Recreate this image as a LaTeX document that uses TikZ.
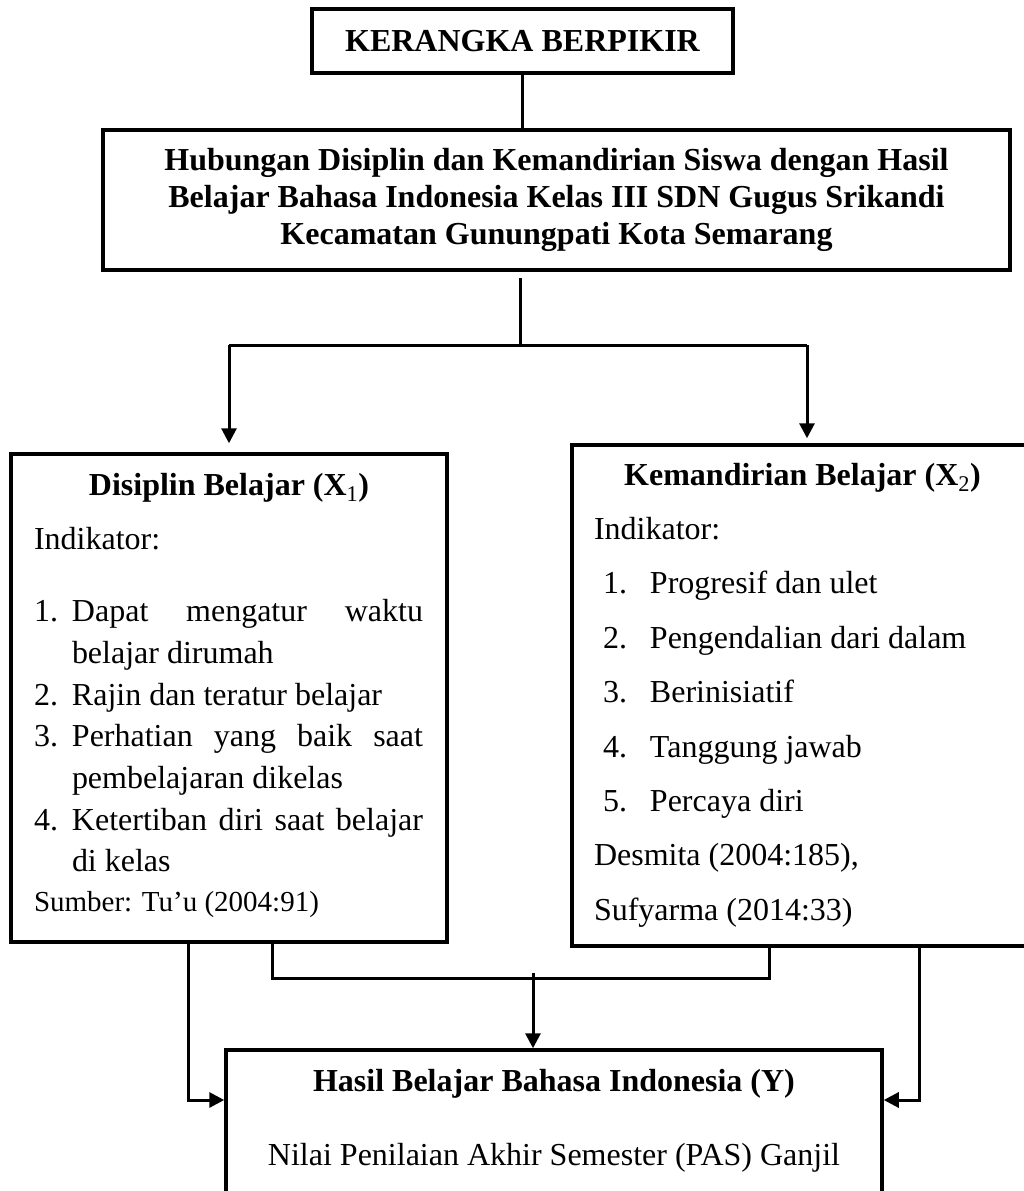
\documentclass[tikz,border=0pt]{standalone}
\usepackage{fontspec}
\setmainfont{Liberation Serif}
\usetikzlibrary{arrows.meta,positioning,calc}
\tikzset{
block/.style = {draw, line width=3.5pt, fill=white, rectangle, inner sep=0pt},
tmp/.style  = {coordinate},
conn/.style = {line width=3pt}
}
\newcommand{\isi}{\fontsize{32}{41.7}\selectfont}
\newcommand{\setelan}{\parskip=0pt \lineskiplimit=-100pt \hyphenpenalty=10000 \tolerance=10000}

\begin{document}
\begin{tikzpicture}[x=1pt, y=-1pt, >={Triangle[length=15pt,width=15pt]}]
  \useasboundingbox (0,0) rectangle (1024,1191);

  \node [block, minimum width=421pt, minimum height=64pt, font={\bfseries\fontsize{32}{38}\selectfont}] (kerangka) at (522.5,41) {KERANGKA BERPIKIR};
  \node [block, minimum width=907pt, minimum height=140pt, align=center, font={\bfseries\fontsize{32}{36.7}\selectfont}] (hubungan) at (556.5,200)
        {Hubungan Disiplin dan Kemandirian Siswa dengan Hasil\\ Belajar Bahasa Indonesia Kelas III SDN Gugus Srikandi\\ Kecamatan Gunungpati Kota Semarang};

  \node [block] (disiplin) at (229,698) {\begin{minipage}[t][488pt][t]{436pt}
    \isi\setelan
    {\centering\bfseries\rule{0pt}{41.7pt}Disiplin Belajar (X{\mdseries\textsubscript{1}})\par}
    \leftskip=23pt \rightskip=24pt
    \vspace{11.9pt}
    Indikator:\par
    \vspace{30.7pt}
    \hangindent=38pt\hangafter=1 \makebox[38pt][l]{1.}Dapat mengatur waktu\linebreak belajar dirumah\par
    \hangindent=38pt\hangafter=1 \makebox[38pt][l]{2.}Rajin dan teratur belajar\par
    \hangindent=38pt\hangafter=1 \makebox[38pt][l]{3.}Perhatian yang baik saat\linebreak pembelajaran dikelas\par
    \hangindent=38pt\hangafter=1 \makebox[38pt][l]{4.}Ketertiban diri saat belajar\linebreak di kelas\par
    \fontsize{29}{40}\selectfont Sumber: Tu’u (2004:91)\par
  \end{minipage}};

  \node [block] (mandiri) at (802.5,695.5) {\begin{minipage}[t][501pt][t]{461pt}
    \fontsize{32}{54.4}\selectfont\setelan
    {\centering\bfseries\rule{0pt}{40pt}Kemandirian Belajar (X{\mdseries\textsubscript{2}})\par}
    \leftskip=22pt
    Indikator:\par
    \leftskip=31pt
    \makebox[47pt][l]{1.}Progresif dan ulet\par
    \makebox[47pt][l]{2.}Pengendalian dari dalam\par
    \makebox[47pt][l]{3.}Berinisiatif\par
    \makebox[47pt][l]{4.}Tanggung jawab\par
    \makebox[47pt][l]{5.}Percaya diri\par
    \leftskip=22pt
    Desmita (2004:185),\par
    Sufyarma (2014:33)\par
  \end{minipage}};

  \node [block] (hasil) at (554,1150) {\begin{minipage}[t][200pt][t]{656pt}
    \centering\fontsize{32}{73.3}\selectfont\setelan
    {\bfseries\rule{0pt}{41.7pt}Hasil Belajar Bahasa Indonesia (Y)}\\
    Nilai Penilaian Akhir Semester (PAS) Ganjil\par
  \end{minipage}};

  \node [tmp] (tmp1) at (520,278) {};
  \node [tmp] (tmp2) at (520,345) {};
  \node [tmp, left of=tmp2, node distance=291pt]  (tmp3) {};
  \node [tmp, right of=tmp2, node distance=287pt] (tmp4) {};
  \node [tmp] (tmp6) at (188,1100) {};
  \node [tmp] (tmp7) at (919,1100) {};
  \node [tmp] (tmp8) at (272,978) {};
  \node [tmp] (tmp9) at (769,978) {};
  \node [tmp] (tmp10) at (533,973) {};

  \draw [conn] (kerangka.south) -- (kerangka.south |- hubungan.north);
  \draw [conn] (tmp1) -- (tmp2);
  \draw [conn] (tmp3) -- (tmp4);
  \draw [conn, ->, shorten >=9pt] (tmp3) -- (tmp3 |- disiplin.north);
  \draw [conn, ->, shorten >=5pt] (tmp4) -- (tmp4 |- mandiri.north);

  \draw [conn, ->] (disiplin.south -| tmp6) -- (tmp6) -- (hasil.west |- tmp6);
  \draw [conn, ->] (mandiri.south -| tmp7) -- (tmp7) -- (hasil.east |- tmp7);
  \draw [conn] (disiplin.south -| tmp8) -- (tmp8) -- (tmp9) -- (mandiri.south -| tmp9);
  \draw [conn, ->] (tmp10) -- (tmp10 |- hasil.north);
\end{tikzpicture}
\end{document}
